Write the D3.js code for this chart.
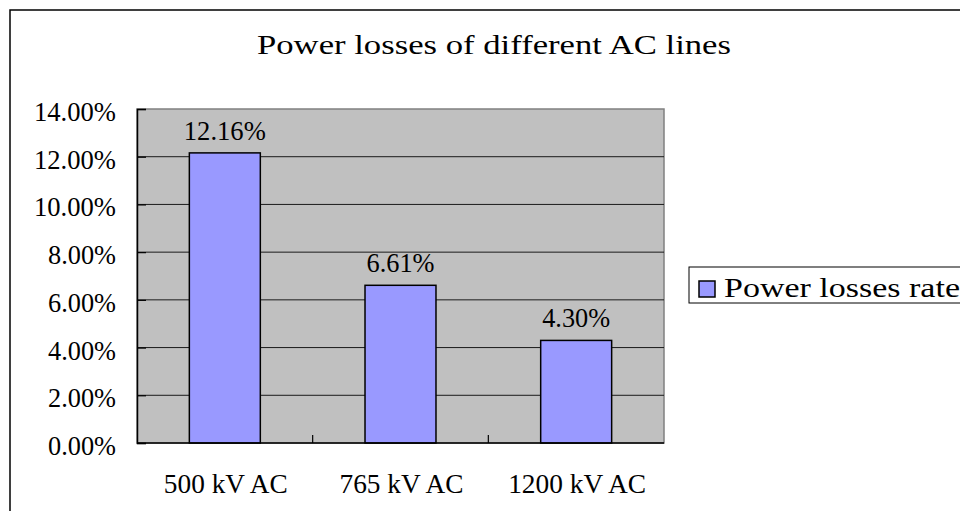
<!DOCTYPE html>
<html>
<head>
<meta charset="utf-8">
<script src="https://cdn.jsdelivr.net/npm/d3@7"></script>
<style>
  body { margin: 0; background: #fff; }
  svg text { font-family: "Liberation Serif", "DejaVu Serif", serif; fill: #000; }
</style>
</head>
<body>
<div id="chart"></div>
<script>
// chart values
var categories = ["500 kV AC", "765 kV AC", "1200 kV AC"];
var lossRates = [12.16, 6.61, 4.30];
var yTicks = [0, 2, 4, 6, 8, 10, 12, 14];
var seriesName = "Power losses rate";
var titleText = "Power losses of different AC lines";

var W = 960, H = 511;
var charW = 14; // the original font is mono-width for latin, roughly 14px a char
var fs = "27.5px";

function fitText(sel){
	sel.attr("textLength", function(){ return this.textContent.length * charW - 2 })
		.attr("lengthAdjust", "spacingAndGlyphs");
}

var svg = d3.select("#chart").append("svg")
	.attr("width", W)
	.attr("height", H);

// outer chart border (runs off the right and bottom of the picture)
svg.append("rect")
	.attr("x", 10).attr("y", 10)
	.attr("width", 1000).attr("height", 600)
	.attr("fill", "#fff")
	.attr("stroke", "#000")
	.attr("stroke-width", 1.5);

svg.append("text")
	.attr("x", 494).attr("y", 54)
	.attr("text-anchor", "middle")
	.style("font-size", fs)
	.text(titleText)
	.call(fitText);

var plot = {left: 137, right: 664, top: 109, bottom: 443};

var x = d3.scaleBand()
	.domain(categories)
	.range([plot.left, plot.right])
	.paddingInner(0.596)
	.paddingOuter(0.298);

var y = d3.scaleLinear()
	.domain([0, 14])
	.range([plot.bottom, plot.top]);

// plot area
svg.append("rect")
	.attr("x", plot.left).attr("y", plot.top)
	.attr("width", plot.right - plot.left)
	.attr("height", plot.bottom - plot.top)
	.attr("fill", "#c0c0c0")
	.attr("stroke", "#808080")
	.attr("stroke-width", 1.5);

// gridlines
svg.append("g")
	.selectAll("line")
	.data(yTicks.filter(function(d){ return d > 0 && d < 14 }))
	.enter()
	.append("line")
		.attr("x1", plot.left).attr("x2", plot.right)
		.attr("y1", function(d){ return y(d) })
		.attr("y2", function(d){ return y(d) })
		.attr("stroke", "#1a1a1a")
		.attr("stroke-width", 1);

// y axis: inward ticks, labels drawn separately
var yAxis = svg.append("g")
	.attr("transform", "translate(" + plot.left + ",0)")
	.call(d3.axisRight(y).tickValues(yTicks).tickSize(9).tickFormat(""));
yAxis.select(".domain").attr("stroke", "#000").attr("stroke-width", 1.5);
yAxis.selectAll(".tick line").attr("stroke", "#000").attr("stroke-width", 1.2);

svg.append("g")
	.selectAll("text")
	.data(yTicks)
	.enter()
	.append("text")
		.attr("x", 116)
		.attr("y", function(d){ return y(d) + 12 })
		.attr("text-anchor", "end")
		.style("font-size", fs)
		.text(function(d){ return d.toFixed(2) + "%" })
		.call(fitText);

// bars
svg.append("g")
	.selectAll("rect")
	.data(lossRates)
	.enter()
	.append("rect")
		.attr("x", function(d, i){ return x(categories[i]) })
		.attr("y", function(d){ return y(d) })
		.attr("width", x.bandwidth())
		.attr("height", function(d){ return y(0) - y(d) })
		.attr("fill", "#9999ff")
		.attr("stroke", "#000")
		.attr("stroke-width", 1.5);

// value labels
svg.append("g")
	.selectAll("text")
	.data(lossRates)
	.enter()
	.append("text")
		.attr("x", function(d, i){ return x(categories[i]) + x.bandwidth()/2 })
		.attr("y", function(d){ return y(d) - 13 })
		.attr("text-anchor", "middle")
		.style("font-size", fs)
		.text(function(d){ return d.toFixed(2) + "%" })
		.call(fitText);

// x axis with ticks between the categories, pointing up
var step = x.step();
var boundaries = categories.slice(1).map(function(c){ return x(c) - step * x.paddingInner() / 2 });
svg.append("line")
	.attr("x1", plot.left).attr("x2", plot.right)
	.attr("y1", plot.bottom).attr("y2", plot.bottom)
	.attr("stroke", "#000").attr("stroke-width", 1.5);
svg.append("g")
	.selectAll("line")
	.data(boundaries)
	.enter()
	.append("line")
		.attr("x1", function(d){ return d }).attr("x2", function(d){ return d })
		.attr("y1", plot.bottom).attr("y2", plot.bottom - 8)
		.attr("stroke", "#000").attr("stroke-width", 1.2);

svg.append("g")
	.selectAll("text")
	.data(categories)
	.enter()
	.append("text")
		.attr("x", function(d){ return x(d) + x.bandwidth()/2 + 1 })
		.attr("y", 493)
		.attr("text-anchor", "middle")
		.style("font-size", fs)
		.text(function(d){ return d })
		.call(fitText);

// legend
var legend = svg.append("g");
legend.append("rect")
	.attr("x", 689).attr("y", 267)
	.attr("width", 400).attr("height", 36)
	.attr("fill", "#fff")
	.attr("stroke", "#000")
	.attr("stroke-width", 1);
legend.append("rect")
	.attr("x", 699).attr("y", 281)
	.attr("width", 16).attr("height", 16)
	.attr("fill", "#9999ff")
	.attr("stroke", "#000")
	.attr("stroke-width", 1.5);
legend.append("text")
	.attr("x", 724).attr("y", 297)
	.style("font-size", fs)
	.text(seriesName)
	.call(fitText);
</script>
</body>
</html>
